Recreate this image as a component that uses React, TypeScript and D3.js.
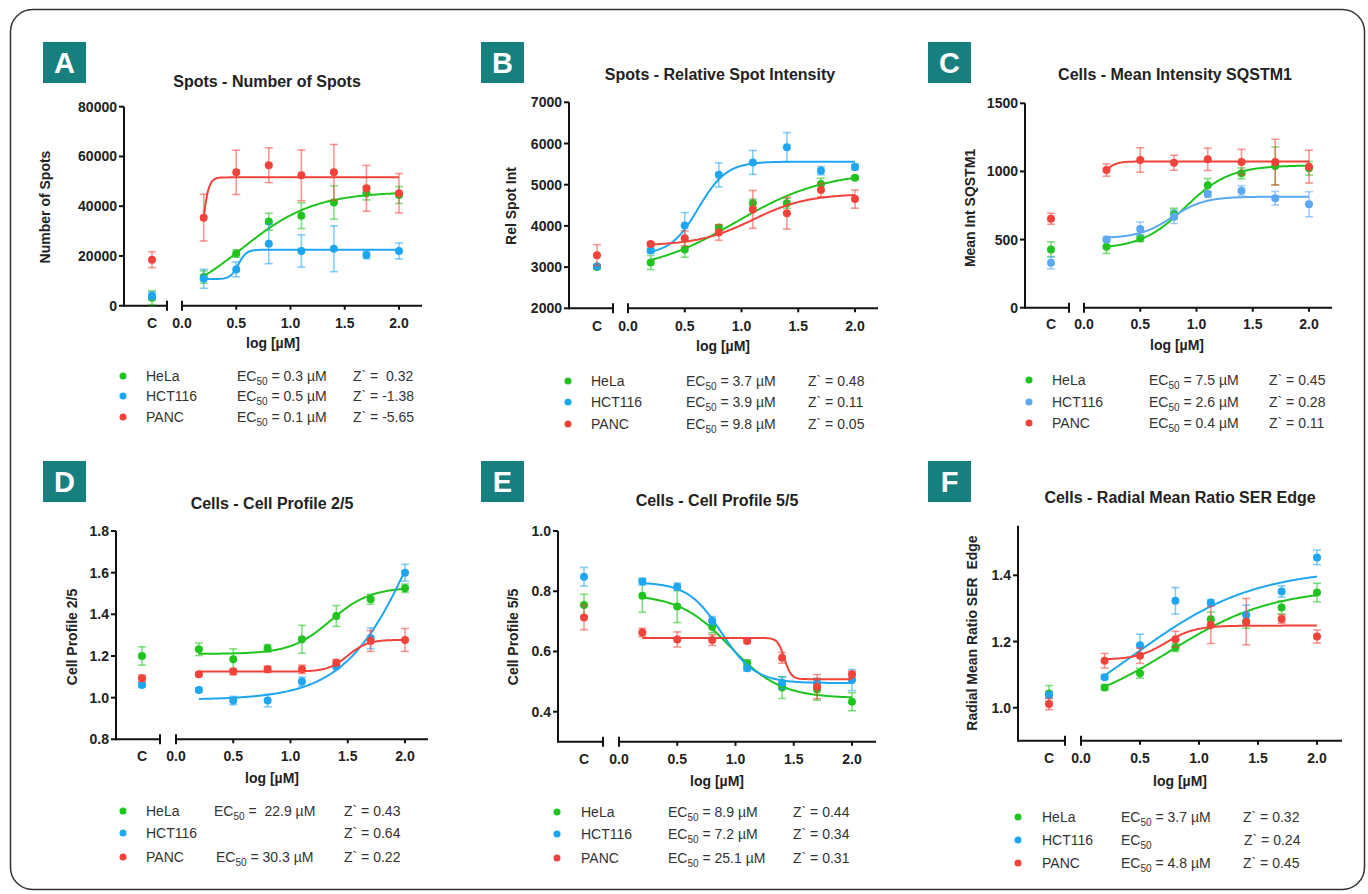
import React from 'react';
import * as d3 from 'd3';

const FONT = '"Liberation Sans", Arial, Helvetica, sans-serif';
const GREEN = '#1fc41f';
const BLUE = '#1ea6f2';
const BLUE_C = '#5aa9f2';
const RED = '#f2433b';
const TEAL = '#17807e';

// ---------- shared data ----------
const doses = [0.2, 0.5, 0.8, 1.1, 1.4, 1.7, 2.0];
const xTicks = [0, 0.5, 1.0, 1.5, 2.0];
const cellLines = ['HeLa', 'HCT116', 'PANC'];

// ---------- Panel A : Spots - Number of Spots ----------
const aHeLa = [11500, 21000, 33800, 36200, 41500, 45200, 44500];
const aHeLaErr = [2500, 1500, 3400, 5200, 6700, 2700, 3400];
const aHCT = [10800, 14600, 24900, 22000, 22900, 20400, 22000];
const aHCTErr = [3800, 3000, 8000, 6500, 9200, 1500, 3200];
const aPANC = [35400, 53600, 56500, 52400, 53600, 47200, 45200];
const aPANCErr = [9400, 8900, 7000, 10200, 11200, 9200, 7900];
const aCtrl = [3200, 4000, 18500];
const aCtrlErr = [2800, 1500, 3200];
const aFit = [[0, 45800, 0.55, 1.3], [10700, 22500, 0.52, 12], [0, 51600, 0.178, 15]];
const aTicks = [0, 20000, 40000, 60000, 80000];
const aEC50 = ['0.3 µM', '0.5 µM', '0.1 µM'];
const aZ = ['  0.32', ' -1.38', ' -5.65'];

// ---------- Panel B : Spots - Relative Spot Intensity ----------
const bHeLa = [3110, 3430, 3960, 4550, 4550, 5020, 5170];
const bHeLaErr = [170, 190, 60, 100, 120, 140, 40];
const bHCT = [3400, 4010, 5240, 5540, 5910, 5340, 5430];
const bHCTErr = [60, 315, 290, 290, 355, 100, 70];
const bPANC = [3560, 3700, 3840, 4400, 4310, 4870, 4650];
const bPANCErr = [50, 180, 190, 460, 385, 160, 220];
const bCtrl = [3000, 3020, 3290];
const bCtrlErr = [50, 40, 255];
const bFit = [[2850, 5330, 0.95, 1.1], [3300, 5560, 0.62, 3.5], [3520, 4780, 1.1, 1.8]];
const bTicks = [2000, 3000, 4000, 5000, 6000, 7000];
const bEC50 = ['3.7 µM', '3.9 µM', '9.8 µM'];
const bZ = [' 0.48', ' 0.11', ' 0.05'];

// ---------- Panel C : Cells - Mean Intensity SQSTM1 ----------
const cHeLa = [448, 509, 690, 898, 986, 1040, 1023];
const cHeLaErr = [50, 25, 40, 50, 40, 140, 50];
const cHCT = [501, 578, 668, 834, 859, 803, 759];
const cHCTErr = [20, 50, 50, 20, 37, 50, 92];
const cPANC = [1010, 1084, 1064, 1089, 1069, 1069, 1035];
const cPANCErr = [45, 90, 55, 82, 93, 167, 120];
const cCtrl = [428, 330, 653];
const cCtrlErr = [55, 45, 40];
const cFit = [[430, 1045, 0.9, 2.2], [510, 815, 0.78, 3], [850, 1073, 0.15, 8]];
const cTicks = [0, 500, 1000, 1500];
const cEC50 = ['7.5 µM', '2.6 µM', '0.4 µM'];
const cZ = [' 0.45', ' 0.28', ' 0.11'];

// ---------- Panel D : Cells - Cell Profile 2/5 ----------
const dHeLa = [1.232, 1.184, 1.237, 1.28, 1.392, 1.472, 1.525];
const dHeLaErr = [0.03, 0.05, 0.018, 0.067, 0.05, 0.024, 0.02];
const dHCT = [1.037, 0.986, 0.986, 1.077, 1.15, 1.285, 1.6];
const dHCTErr = [0.01, 0.02, 0.03, 0.022, 0.01, 0.05, 0.04];
const dPANC = [1.112, 1.125, 1.136, 1.136, 1.168, 1.272, 1.277];
const dPANCErr = [0.01, 0.015, 0.015, 0.02, 0.015, 0.05, 0.055];
const dCtrl = [1.2, 1.061, 1.093];
const dCtrlErr = [0.044, 0.01, 0.015];
const dFit = [[1.21, 1.53, 1.35, 2.5], [0.99, 2.6, 2.15, 1.35], [1.125, 1.278, 1.5, 5]];
const dTicks = [0.8, 1.0, 1.2, 1.4, 1.6, 1.8];
const dEC50 = [' 22.9 µM', null, '30.3 µM'];
const dZ = [' 0.43', ' 0.64', ' 0.22'];

// ---------- Panel E : Cells - Cell Profile 5/5 ----------
const eHeLa = [0.785, 0.749, 0.682, 0.561, 0.48, 0.474, 0.433];
const eHeLaErr = [0.055, 0.053, 0.02, 0.011, 0.036, 0.036, 0.03];
const eHCT = [0.832, 0.815, 0.702, 0.544, 0.496, 0.496, 0.505];
const eHCTErr = [0.011, 0.012, 0.014, 0.008, 0.02, 0.015, 0.035];
const ePANC = [0.663, 0.64, 0.638, 0.635, 0.579, 0.483, 0.524];
const ePANCErr = [0.014, 0.025, 0.018, 0.006, 0.018, 0.04, 0.01];
const eCtrl = [0.754, 0.848, 0.713];
const eCtrlErr = [0.036, 0.031, 0.041];
const eFit = [[0.79, 0.445, 0.95, 2], [0.83, 0.495, 0.88, 3], [0.645, 0.508, 1.42, 15]];
const eTicks = [0.4, 0.6, 0.8, 1.0];
const eEC50 = ['8.9 µM', '7.2 µM', '25.1 µM'];
const eZ = [' 0.44', ' 0.34', ' 0.31'];

// ---------- Panel F : Cells - Radial Mean Ratio SER Edge ----------
const fHeLa = [1.061, 1.104, 1.182, 1.267, 1.26, 1.303, 1.348];
const fHeLaErr = [0.008, 0.015, 0.012, 0.022, 0.02, 0.02, 0.028];
const fHCT = [1.092, 1.189, 1.323, 1.318, 1.28, 1.351, 1.454];
const fHCTErr = [0.006, 0.033, 0.04, 0.008, 0.03, 0.017, 0.022];
const fPANC = [1.142, 1.157, 1.207, 1.25, 1.26, 1.268, 1.215];
const fPANCErr = [0.022, 0.023, 0.024, 0.056, 0.07, 0.013, 0.02];
const fCtrl = [1.043, 1.038, 1.011];
const fCtrlErr = [0.024, 0.01, 0.017];
const fFit = [[0.98, 1.36, 0.75, 1.0], [0.9, 1.42, 0.45, 0.85], [1.145, 1.248, 0.72, 3.5]];
const fTicks = [1.0, 1.2, 1.4];
const fEC50 = ['3.7 µM', '', '4.8 µM'];
const fZ = [' 0.32', ' 0.24', ' 0.45'];

// ---------- helpers ----------
const logistic = (p: number[], xv: number) => p[0] + (p[1] - p[0]) / (1 + Math.pow(10, (p[2] - xv) * p[3]));

type Geo = {
  yAxisX: number; segEnd: number; ctrlX: number; x0: number; x2: number; axisEnd: number;
  yRef: number[]; yTopVal: number; xAxisVal: number;
  titleX: number; titleY: number; yLabelX: number; yLabelY: number;
  xLabelX: number; xLabelY: number; tickLabelY: number; box: number[];
  leg: { dotX: number; nameX: number; ecX: number[]; zX: number[]; rows: number[] };
};

function Panel(props: any) {
  const { g, letter, title, yLabel, yTicks, fmt, means, errs, ctrl, ctrlErr, fits, colors, ec50, zs } = props;
  const geo: Geo = g;
  const x = d3.scaleLinear().domain([0, 2]).range([geo.x0, geo.x2]);
  const y = d3.scaleLinear().domain([geo.yRef[0], geo.yRef[2]]).range([geo.yRef[1], geo.yRef[3]]);
  const yTop = y(geo.yTopVal);
  const yBot = y(geo.xAxisVal);
  const samples = d3.range(0, 181).map((i) => 0.2 + i * 0.01);
  const cap = 4;
  const order = [0, 1, 2];

  return (
    <g fontFamily={FONT}>
      <rect x={geo.box[0]} y={geo.box[1]} width={43} height={41} fill={TEAL} />
      <text x={geo.box[0] + 21.5} y={geo.box[1] + 31} textAnchor="middle" fill="#fff" fontSize={29} fontWeight="bold">{letter}</text>
      <text x={geo.titleX} y={geo.titleY + 6} textAnchor="middle" fontSize={16} fontWeight="bold" fill="#222">{title}</text>

      {/* axes */}
      <line x1={geo.yAxisX} x2={geo.yAxisX} y1={yTop} y2={yBot + 1} stroke="#111" strokeWidth={2} />
      <line x1={geo.yAxisX} x2={geo.segEnd} y1={yBot} y2={yBot} stroke="#111" strokeWidth={2} />
      <line x1={geo.segEnd} x2={geo.segEnd} y1={yBot - 5} y2={yBot + 5} stroke="#111" strokeWidth={2} />
      <line x1={geo.x0} x2={geo.axisEnd} y1={yBot} y2={yBot} stroke="#111" strokeWidth={2} />
      <line x1={geo.x0} x2={geo.x0} y1={yBot - 5} y2={yBot + 5} stroke="#111" strokeWidth={2} />
      {yTicks.map((t: number) => (
        <g key={'yt' + t}>
          <line x1={geo.yAxisX - 5} x2={geo.yAxisX} y1={y(t)} y2={y(t)} stroke="#111" strokeWidth={2} />
          <text x={geo.yAxisX - 7} y={y(t) + 5} textAnchor="end" fontSize={14} fontWeight="bold" fill="#222">{fmt(t)}</text>
        </g>
      ))}
      {xTicks.map((t) => (
        <g key={'xt' + t}>
          {t > 0 && <line x1={x(t)} x2={x(t)} y1={yBot} y2={yBot + 4} stroke="#111" strokeWidth={2} />}
          <text x={x(t)} y={geo.tickLabelY + 5} textAnchor="middle" fontSize={14} fontWeight="bold" fill="#222">{t.toFixed(1)}</text>
        </g>
      ))}
      <text x={geo.ctrlX} y={geo.tickLabelY + 5} textAnchor="middle" fontSize={14} fontWeight="bold" fill="#222">C</text>
      <text x={geo.xLabelX} y={geo.xLabelY + 5} textAnchor="middle" fontSize={14} fontWeight="bold" fill="#222">log [µM]</text>
      <text transform={`translate(${geo.yLabelX + 5},${geo.yLabelY}) rotate(-90)`} textAnchor="middle" fontSize={14} fontWeight="bold" fill="#222" xmlSpace="preserve" style={{ whiteSpace: 'pre' }}>{yLabel}</text>

      {/* series */}
      {order.map((s) => {
        const col = colors[s];
        const line = d3.line<number>().x((d) => x(d)).y((d) => y(logistic(fits[s], d)));
        return (
          <g key={'s' + s}>
            {doses.map((dv, i) => {
              const cx = x(dv);
              const hi = y(means[s][i] + errs[s][i]);
              const lo = y(means[s][i] - errs[s][i]);
              return (
                <g key={i} stroke={col} strokeOpacity={0.55} strokeWidth={1.6}>
                  <line x1={cx} x2={cx} y1={hi} y2={lo} />
                  <line x1={cx - cap} x2={cx + cap} y1={hi} y2={hi} />
                  <line x1={cx - cap} x2={cx + cap} y1={lo} y2={lo} />
                </g>
              );
            })}
            <g stroke={col} strokeOpacity={0.55} strokeWidth={1.6}>
              <line x1={geo.ctrlX} x2={geo.ctrlX} y1={y(ctrl[s] + ctrlErr[s])} y2={y(ctrl[s] - ctrlErr[s])} />
              <line x1={geo.ctrlX - cap} x2={geo.ctrlX + cap} y1={y(ctrl[s] + ctrlErr[s])} y2={y(ctrl[s] + ctrlErr[s])} />
              <line x1={geo.ctrlX - cap} x2={geo.ctrlX + cap} y1={y(ctrl[s] - ctrlErr[s])} y2={y(ctrl[s] - ctrlErr[s])} />
            </g>
            <path d={line(samples) || ''} fill="none" stroke={col} strokeWidth={2} />
            {doses.map((dv, i) => (
              <circle key={'p' + i} cx={x(dv)} cy={y(means[s][i])} r={4} fill={col} />
            ))}
            <circle cx={geo.ctrlX} cy={y(ctrl[s])} r={4} fill={col} />
          </g>
        );
      })}

      {/* legend */}
      {cellLines.map((name, i) => {
        const ry = geo.leg.rows[i];
        return (
          <g key={'l' + name} fontSize={14} fill="#333">
            <circle cx={geo.leg.dotX} cy={ry} r={3.5} fill={colors[i]} />
            <text x={geo.leg.nameX} y={ry + 5}>{name}</text>
            {ec50[i] !== null && (
              <text x={geo.leg.ecX[i]} y={ry + 5} xmlSpace="preserve" style={{ whiteSpace: 'pre' }}>
                EC<tspan fontSize={10} dy={4}>50</tspan>
                {ec50[i] !== '' && <tspan dy={-4}>{' = ' + ec50[i]}</tspan>}
              </text>
            )}
            <text x={geo.leg.zX[i]} y={ry + 5} xmlSpace="preserve" style={{ whiteSpace: 'pre' }}>{'Z` =' + zs[i]}</text>
          </g>
        );
      })}
    </g>
  );
}

const fmtInt = (v: number) => d3.format('d')(v);
const fmt1 = (v: number) => v.toFixed(1);

const geoA: Geo = {
  yAxisX: 124, segEnd: 167, ctrlX: 152, x0: 182, x2: 399, axisEnd: 422,
  yRef: [0, 305.7, 80000, 106.7], yTopVal: 80000, xAxisVal: 0,
  titleX: 267, titleY: 81, yLabelX: 45, yLabelY: 207, xLabelX: 273, xLabelY: 343, tickLabelY: 323,
  box: [43, 42],
  leg: { dotX: 123, nameX: 146, ecX: [237, 237, 237], zX: [353, 353, 353], rows: [376, 396, 417] },
};
const geoB: Geo = {
  yAxisX: 569, segEnd: 613, ctrlX: 597, x0: 628, x2: 855, axisEnd: 878,
  yRef: [2000, 308.3, 7000, 102.3], yTopVal: 7000, xAxisVal: 2000,
  titleX: 720, titleY: 74, yLabelX: 511, yLabelY: 206, xLabelX: 723, xLabelY: 346, tickLabelY: 326,
  box: [481, 42],
  leg: { dotX: 568, nameX: 591, ecX: [686, 686, 686], zX: [808, 808, 808], rows: [381, 402, 424] },
};
const geoC: Geo = {
  yAxisX: 1025, segEnd: 1069, ctrlX: 1051, x0: 1084, x2: 1309, axisEnd: 1332,
  yRef: [0, 307.7, 1500, 103.3], yTopVal: 1500, xAxisVal: 0,
  titleX: 1175, titleY: 74, yLabelX: 970, yLabelY: 208, xLabelX: 1177, xLabelY: 345, tickLabelY: 324,
  box: [928, 42],
  leg: { dotX: 1029, nameX: 1052, ecX: [1149, 1149, 1149], zX: [1269, 1269, 1269], rows: [380, 402, 423] },
};
const geoD: Geo = {
  yAxisX: 116, segEnd: 160, ctrlX: 142, x0: 176, x2: 405, axisEnd: 428,
  yRef: [0.8, 739.3, 1.8, 531], yTopVal: 1.8, xAxisVal: 0.8,
  titleX: 272, titleY: 503, yLabelX: 72, yLabelY: 637, xLabelX: 272, xLabelY: 778, tickLabelY: 756,
  box: [43, 461],
  leg: { dotX: 123, nameX: 146, ecX: [214, 214, 216], zX: [344, 344, 344], rows: [811, 833, 857] },
};
const geoE: Geo = {
  yAxisX: 558, segEnd: 603, ctrlX: 584, x0: 619, x2: 852, axisEnd: 876,
  yRef: [0.4, 711.7, 1.0, 531], yTopVal: 1.0, xAxisVal: 0.3,
  titleX: 717, titleY: 500, yLabelX: 513, yLabelY: 637, xLabelX: 717, xLabelY: 781, tickLabelY: 759,
  box: [481, 461],
  leg: { dotX: 557, nameX: 581, ecX: [668, 668, 668], zX: [793, 793, 793], rows: [812, 834, 858] },
};
const geoF: Geo = {
  yAxisX: 1018, segEnd: 1065, ctrlX: 1049, x0: 1081, x2: 1317, axisEnd: 1342,
  yRef: [1.0, 707.7, 1.4, 575.3], yTopVal: 1.55, xAxisVal: 0.9,
  titleX: 1180, titleY: 497, yLabelX: 972, yLabelY: 633, xLabelX: 1180, xLabelY: 781, tickLabelY: 758,
  box: [928, 461],
  leg: { dotX: 1018, nameX: 1042, ecX: [1121, 1121, 1121], zX: [1243, 1244, 1243], rows: [817, 840, 863] },
};

export default function App() {
  const stdColors = [GREEN, BLUE, RED];
  const cColors = [GREEN, BLUE_C, RED];
  return (
    <svg width={1368} height={894} style={{ position: 'absolute', left: 0, top: 0, background: '#fff' }}>
      <rect x={10.5} y={9.5} width={1354} height={880} rx={22} fill="none" stroke="#333" strokeWidth={1.5} />
      <Panel g={geoA} letter="A" title="Spots - Number of Spots" yLabel="Number of Spots" yTicks={aTicks} fmt={fmtInt}
        means={[aHeLa, aHCT, aPANC]} errs={[aHeLaErr, aHCTErr, aPANCErr]} ctrl={aCtrl} ctrlErr={aCtrlErr}
        fits={aFit} colors={stdColors} ec50={aEC50} zs={aZ} />
      <Panel g={geoB} letter="B" title="Spots - Relative Spot Intensity" yLabel="Rel Spot Int" yTicks={bTicks} fmt={fmtInt}
        means={[bHeLa, bHCT, bPANC]} errs={[bHeLaErr, bHCTErr, bPANCErr]} ctrl={bCtrl} ctrlErr={bCtrlErr}
        fits={bFit} colors={stdColors} ec50={bEC50} zs={bZ} />
      <Panel g={geoC} letter="C" title="Cells - Mean Intensity SQSTM1" yLabel="Mean Int SQSTM1" yTicks={cTicks} fmt={fmtInt}
        means={[cHeLa, cHCT, cPANC]} errs={[cHeLaErr, cHCTErr, cPANCErr]} ctrl={cCtrl} ctrlErr={cCtrlErr}
        fits={cFit} colors={cColors} ec50={cEC50} zs={cZ} />
      <Panel g={geoD} letter="D" title="Cells - Cell Profile 2/5" yLabel="Cell Profile 2/5" yTicks={dTicks} fmt={fmt1}
        means={[dHeLa, dHCT, dPANC]} errs={[dHeLaErr, dHCTErr, dPANCErr]} ctrl={dCtrl} ctrlErr={dCtrlErr}
        fits={dFit} colors={stdColors} ec50={dEC50} zs={dZ} />
      <Panel g={geoE} letter="E" title="Cells - Cell Profile 5/5" yLabel="Cell Profile 5/5" yTicks={eTicks} fmt={fmt1}
        means={[eHeLa, eHCT, ePANC]} errs={[eHeLaErr, eHCTErr, ePANCErr]} ctrl={eCtrl} ctrlErr={eCtrlErr}
        fits={eFit} colors={stdColors} ec50={eEC50} zs={eZ} />
      <Panel g={geoF} letter="F" title="Cells - Radial Mean Ratio SER Edge" yLabel="Radial Mean Ratio SER  Edge" yTicks={fTicks} fmt={fmt1}
        means={[fHeLa, fHCT, fPANC]} errs={[fHeLaErr, fHCTErr, fPANCErr]} ctrl={fCtrl} ctrlErr={fCtrlErr}
        fits={fFit} colors={stdColors} ec50={fEC50} zs={fZ} />
    </svg>
  );
}
